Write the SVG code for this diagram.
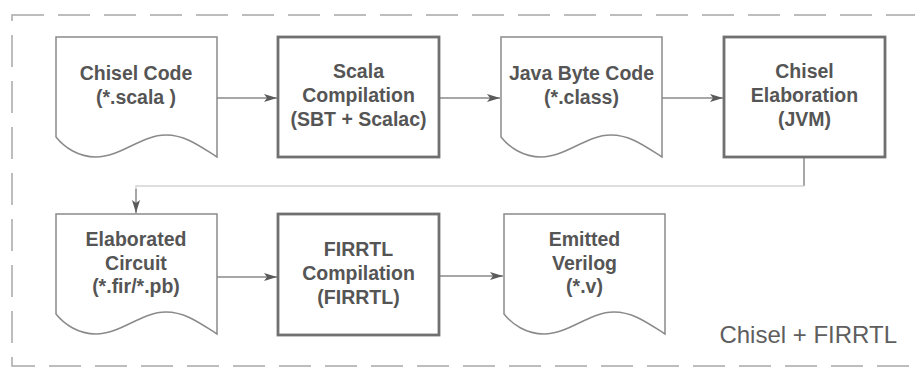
<svg xmlns="http://www.w3.org/2000/svg" width="915" height="369" viewBox="0 0 915 369">
<style>
.doc{fill:#fff;stroke:#8a8a8a;stroke-width:1.5}
.box{fill:#fff;stroke:#707070;stroke-width:2.8}
.t{font-family:"Liberation Sans",Arial,sans-serif;font-weight:bold;font-size:19.5px;fill:#555;text-anchor:middle}
.c{fill:none;stroke:#8a8a8a;stroke-width:1.5}
.c2{fill:none;stroke:#d4d4d4;stroke-width:1.5}
</style>
<defs>
<marker id="ah" markerWidth="14" markerHeight="10" refX="13" refY="4.5" orient="auto" markerUnits="userSpaceOnUse">
<path d="M0,0.5 L13,4.5 L0,8.5 L3,4.5 Z" fill="#5a5a5a"/>
</marker>
<path id="docshape" d="M0,0 H161 V120 C145,110 130,98 110,98 C85,98 65,120 40,120 C22,120 8,110 0,100 Z"/>
</defs>
<rect x="12" y="15" width="940" height="351" fill="none" stroke="#a8a8a8" stroke-width="1.5" stroke-dasharray="32 14"/>
<g id="connectors">
<line class="c" x1="217" y1="98" x2="277" y2="98" marker-end="url(#ah)"/>
<line class="c" x1="439" y1="98" x2="500" y2="98" marker-end="url(#ah)"/>
<line class="c" x1="662" y1="98" x2="723" y2="98" marker-end="url(#ah)"/>
<polyline class="c" points="804,157 804,186"/>
<polyline class="c2" points="804,186 136,186 136,190"/>
<line class="c" x1="136" y1="189" x2="136" y2="213" marker-end="url(#ah)"/>
<line class="c" x1="217" y1="277" x2="277" y2="277" marker-end="url(#ah)"/>
<line class="c" x1="439" y1="276" x2="503" y2="276" marker-end="url(#ah)"/>
</g>
<g id="chisel-code">
<use href="#docshape" class="doc" x="56" y="37"/>
<text class="t" x="136" y="80">Chisel Code</text>
<text class="t" x="136" y="104">(*.scala )</text>
</g>
<g id="scala-compilation">
<rect class="box" x="278" y="37" width="161" height="120"/>
<text class="t" x="358.5" y="78">Scala</text>
<text class="t" x="358.5" y="102">Compilation</text>
<text class="t" x="358.5" y="125.5">(SBT + Scalac)</text>
</g>
<g id="java-byte-code">
<use href="#docshape" class="doc" x="501" y="37"/>
<text class="t" x="581.5" y="80">Java Byte Code</text>
<text class="t" x="581.5" y="104">(*.class)</text>
</g>
<g id="chisel-elaboration">
<rect class="box" x="724" y="37" width="161" height="120"/>
<text class="t" x="804.5" y="78">Chisel</text>
<text class="t" x="804.5" y="102">Elaboration</text>
<text class="t" x="804.5" y="125.5">(JVM)</text>
</g>
<g id="elaborated-circuit">
<use href="#docshape" class="doc" x="56" y="214"/>
<text class="t" x="136" y="246">Elaborated</text>
<text class="t" x="136" y="269.5">Circuit</text>
<text class="t" x="136" y="293">(*.fir/*.pb)</text>
</g>
<g id="firrtl-compilation">
<rect class="box" x="278" y="214" width="161" height="121"/>
<text class="t" x="358.5" y="256">FIRRTL</text>
<text class="t" x="358.5" y="280">Compilation</text>
<text class="t" x="358.5" y="303.5">(FIRRTL)</text>
</g>
<g id="emitted-verilog">
<use href="#docshape" class="doc" x="504" y="214"/>
<text class="t" x="584.5" y="246">Emitted</text>
<text class="t" x="584.5" y="269.5">Verilog</text>
<text class="t" x="584.5" y="293">(*.v)</text>
</g>
<text x="897" y="343" font-family="'Liberation Sans',Arial,sans-serif" font-size="24" fill="#5e5e5e" text-anchor="end">Chisel + FIRRTL</text>
</svg>
